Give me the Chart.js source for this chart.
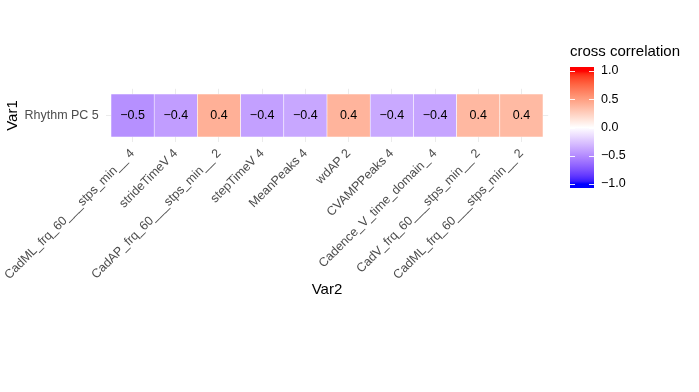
<!DOCTYPE html>
<html>
<head>
<meta charset="utf-8">
<script src="https://cdn.jsdelivr.net/npm/chart.js@4/dist/chart.umd.min.js"></script>
<style>
  html, body { margin: 0; padding: 0; background: #fff; }
  #wrap { width: 699px; height: 392px; }
</style>
</head>
<body>
<div id="wrap"><canvas id="heat" width="699" height="392"></canvas></div>
<script>
/* --------------- Data --------------------- */
const rowLabel = "Rhythm PC 5";
const varNames = [
  "CadML_frq_60___stps_min__ 4",
  "strideTimeV 4",
  "CadAP_frq_60___stps_min__ 2",
  "stepTimeV 4",
  "MeanPeaks 4",
  "wdAP 2",
  "CVAMPPeaks 4",
  "Cadence_V_time_domain_ 4",
  "CadV_frq_60___stps_min__ 2",
  "CadML_frq_60___stps_min__ 2"
];
const corrValues = [-0.48, -0.42, 0.41, -0.41, -0.38, 0.39, -0.37, -0.39, 0.37, 0.36];
const legendTicks = [1.0, 0.5, 0.0, -0.5, -1.0];

const FONT = "'Liberation Sans', Arial, sans-serif";

/* --------------- Lab gradient (blue - white - red) --------------------- */
const toLin = c => { c /= 255; return c <= 0.04045 ? c / 12.92 : Math.pow((c + 0.055) / 1.055, 2.4); };
const fromLin = c => { c = c <= 0.0031308 ? 12.92 * c : 1.055 * Math.pow(c, 1 / 2.4) - 0.055; return Math.round(Math.max(0, Math.min(1, c)) * 255); };
const rgb2lab = ([r, g, b]) => {
  r = toLin(r); g = toLin(g); b = toLin(b);
  let x = (0.4124 * r + 0.3576 * g + 0.1805 * b) / 0.95047;
  let y = (0.2126 * r + 0.7152 * g + 0.0722 * b);
  let z = (0.0193 * r + 0.1192 * g + 0.9505 * b) / 1.08883;
  const f = t => t > 0.008856 ? Math.cbrt(t) : 7.787 * t + 16 / 116;
  x = f(x); y = f(y); z = f(z);
  return [116 * y - 16, 500 * (x - y), 200 * (y - z)];
};
const lab2rgb = ([L, a, b]) => {
  let fy = (L + 16) / 116, fx = fy + a / 500, fz = fy - b / 200;
  const f = t => t ** 3 > 0.008856 ? t ** 3 : (t - 16 / 116) / 7.787;
  let x = 0.95047 * f(fx), y = f(fy), z = 1.08883 * f(fz);
  const r = 3.2406 * x - 1.5372 * y - 0.4986 * z;
  const g = -0.9689 * x + 1.8758 * y + 0.0415 * z;
  const bb = 0.0557 * x - 0.2040 * y + 1.0570 * z;
  return `rgb(${fromLin(r)},${fromLin(g)},${fromLin(bb)})`;
};
const labLow = rgb2lab([0, 0, 255]), labMid = rgb2lab([255, 255, 255]), labHigh = rgb2lab([255, 0, 0]);
const fillFor = v => {
  const end = v < 0 ? labLow : labHigh;
  const t = Math.min(1, Math.abs(v));
  return lab2rgb(labMid.map((m, i) => m + t * (end[i] - m)));
};
const fmt = v => { const s = v.toFixed(1); return s.startsWith("-") ? "\u2212" + s.slice(1) : s; };

/* --------------- Plugins --------------------- */
const tileText = {
  id: "tileText",
  afterDatasetsDraw(chart) {
    const ctx = chart.ctx;
    ctx.save();
    ctx.font = `12.5px ${FONT}`;
    ctx.fillStyle = "#000";
    ctx.textAlign = "center";
    ctx.textBaseline = "middle";
    chart.getDatasetMeta(0).data.forEach((el, i) => {
      ctx.fillText(fmt(corrValues[i]), el.x, (el.y + el.base) / 2);
    });
    ctx.restore();
  }
};

const colorBar = {
  id: "colorBar",
  afterDraw(chart) {
    const ctx = chart.ctx;
    const x0 = 570, w = 24, top = 67, bot = 188;
    const yTop = 71, yBot = 184; // positions of 1.0 and -1.0
    const yOf = v => yBot + (v + 1) / 2 * (yTop - yBot);
    ctx.save();
    const grad = ctx.createLinearGradient(0, yTop, 0, yBot);
    for (let k = 0; k <= 40; k++) {
      const v = 1 - k / 20;
      grad.addColorStop(k / 40, fillFor(v));
    }
    ctx.fillStyle = fillFor(1);
    ctx.fillRect(x0, top, w, yTop - top);
    ctx.fillStyle = fillFor(-1);
    ctx.fillRect(x0, yBot, w, bot - yBot);
    ctx.fillStyle = grad;
    ctx.fillRect(x0, yTop, w, yBot - yTop);
    // ticks
    ctx.strokeStyle = "rgba(255,255,255,0.9)";
    ctx.lineWidth = 1;
    legendTicks.forEach(v => {
      const y = Math.round(yOf(v)) + 0.5;
      ctx.beginPath();
      ctx.moveTo(x0, y); ctx.lineTo(x0 + 5, y);
      ctx.moveTo(x0 + w - 5, y); ctx.lineTo(x0 + w, y);
      ctx.stroke();
    });
    ctx.fillStyle = "#000";
    ctx.font = `12.5px ${FONT}`;
    ctx.textAlign = "left";
    ctx.textBaseline = "middle";
    legendTicks.forEach(v => ctx.fillText(fmt(v), 601, yOf(v)));
    ctx.font = `15px ${FONT}`;
    ctx.fillText("cross correlation", 570, 52);
    ctx.restore();
  }
};

/* --------------- Chart --------------------- */
new Chart(document.getElementById("heat"), {
  type: "bar",
  plugins: [tileText, colorBar],
  data: {
    datasets: [{
      data: corrValues.map((v, i) => ({ x: i, y: 1 })),
      backgroundColor: corrValues.map(fillFor),
      borderColor: "rgba(255,255,255,0.8)",
      borderWidth: 0.6,
      borderSkipped: false,
      barPercentage: 1,
      categoryPercentage: 1
    }]
  },
  options: {
    responsive: false,
    animation: false,
    layout: { padding: { left: 0, top: 88.8, right: 150.8, bottom: 89 } },
    plugins: { legend: { display: false }, tooltip: { enabled: false } },
    scales: {
      x: {
        type: "linear",
        offset: false,
        min: -0.62, max: 9.62,
        afterBuildTicks: s => { s.ticks = varNames.map((_, i) => ({ value: i })); },
        afterFit: s => { s.height = 160.8; s.paddingLeft = 0; s.paddingRight = 0; },
        grid: { color: "#EBEBEB", lineWidth: 1, drawTicks: false, offset: false },
        border: { display: false },
        ticks: {
          autoSkip: false,
          minRotation: 45, maxRotation: 45,
          padding: 4,
          color: "#4D4D4D",
          font: { family: FONT, size: 12.5 },
          callback: v => varNames[v]
        },
        title: { display: true, text: "Var2", color: "#000", font: { family: FONT, size: 15 } }
      },
      y: {
        min: -0.12, max: 1.12,
        afterBuildTicks: s => { s.ticks = [{ value: 0.5 }]; },
        afterFit: s => { s.width = 105.8; },
        grid: { color: "#EBEBEB", lineWidth: 1, drawTicks: false },
        border: { display: false },
        ticks: {
          padding: 7,
          color: "#4D4D4D",
          font: { family: FONT, size: 12.5 },
          callback: () => rowLabel
        },
        title: { display: true, text: "Var1", color: "#000", font: { family: FONT, size: 15 } }
      }
    }
  }
});
</script>
</body>
</html>
